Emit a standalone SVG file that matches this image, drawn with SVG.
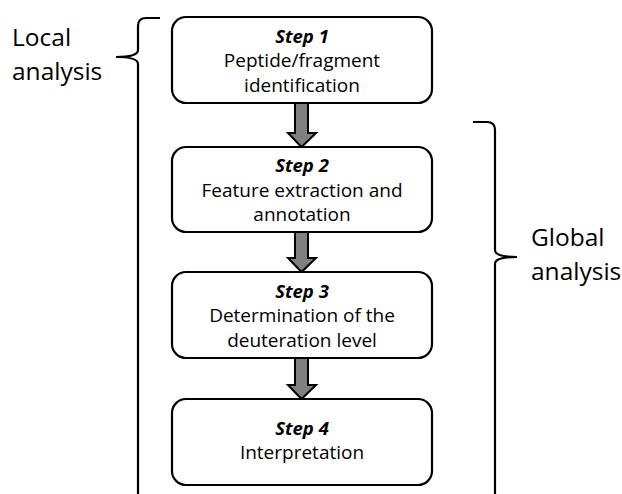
<svg xmlns="http://www.w3.org/2000/svg" width="622" height="494" viewBox="0 0 622 494">
<style>
.box{fill:#fff;stroke:#000;stroke-width:2.2}
.arrow{fill:#808080;stroke:#000;stroke-width:2;stroke-linejoin:miter}
.brace{fill:none;stroke:#000;stroke-width:2.2}
text{font-family:"Open Sans","Liberation Sans",sans-serif;fill:#000}
.t{font-size:19px;text-anchor:middle}
.s{font-size:18.5px;font-weight:bold;font-style:italic;text-anchor:middle}
.lbl{font-size:24.5px}
</style>
<rect width="622" height="494" fill="#fff"/>
<g id="braces">
<path class="brace" d="M160,18 L146,18 Q138,18 138,26 L138,50 Q138,57 116,57 Q138,57 138,64 L138,494"/>
<path class="brace" d="M473,122 L487,122 Q495,122 495,130 L495,250 Q495,257 517,257 Q495,257 495,264 L495,494"/>
</g>
<g id="label-local">
<text class="lbl" x="12" y="46">Local</text>
<text class="lbl" x="12" y="80">analysis</text>
</g>
<g id="label-global">
<text class="lbl" x="531" y="246">Global</text>
<text class="lbl" x="531" y="280">analysis</text>
</g>
<g id="connectors">
<polygon class="arrow" points="295,103 308,103 308,133 316,133 301.5,147 288,133 295,133"/>
<polygon class="arrow" points="295,232 308,232 308,258 316,258 301.5,272 288,258 295,258"/>
<polygon class="arrow" points="295,358 308,358 308,385 316,385 301.5,399 288,385 295,385"/>
</g>
<g id="step1">
<rect class="box" x="172" y="17" width="260" height="86" rx="14"/>
<text class="s" x="302" y="43">Step 1</text>
<text class="t" x="302" y="67">Peptide/fragment</text>
<text class="t" x="302" y="92">identification</text>
</g>
<g id="step2">
<rect class="box" x="172" y="147" width="260" height="85" rx="14"/>
<text class="s" x="302" y="172">Step 2</text>
<text class="t" x="302" y="197">Feature extraction and</text>
<text class="t" x="302" y="221">annotation</text>
</g>
<g id="step3">
<rect class="box" x="172" y="272" width="260" height="86" rx="14"/>
<text class="s" x="302" y="298">Step 3</text>
<text class="t" x="302" y="322">Determination of the</text>
<text class="t" x="302" y="347">deuteration level</text>
</g>
<g id="step4">
<rect class="box" x="172" y="399" width="260" height="86" rx="14"/>
<text class="s" x="302" y="435">Step 4</text>
<text class="t" x="302" y="459">Interpretation</text>
</g>
</svg>
